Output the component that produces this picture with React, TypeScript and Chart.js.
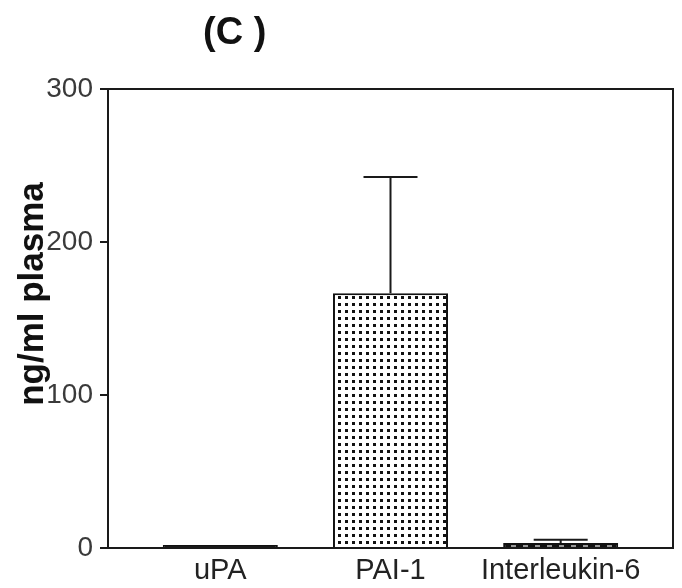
import React, { useEffect, useRef } from "react";
import { Chart, registerables } from "chart.js";

Chart.register(...registerables);

const categories = ["uPA", "PAI-1", "Interleukin-6"];
const means = [2, 166.5, 3.2];
const sdUpper = [0, 76, 2.2];
const yTicks = [0, 100, 200, 300];
const chartTitle = "(C )";
const yTitle = "ng/ml plasma";

function dotPattern(): CanvasPattern | string {
  const c = document.createElement("canvas");
  c.width = 7;
  c.height = 7;
  const g = c.getContext("2d");
  if (!g) return "#ccc";
  g.fillStyle = "#ffffff";
  g.fillRect(0, 0, 7, 7);
  g.fillStyle = "#111111";
  g.fillRect(2, 2, 3, 3);
  const p = g.createPattern(c, "repeat");
  return p || "#ccc";
}

function dashPattern(): CanvasPattern | string {
  const c = document.createElement("canvas");
  c.width = 12;
  c.height = 4;
  const g = c.getContext("2d");
  if (!g) return "#888";
  g.fillStyle = "#999999";
  g.fillRect(0, 0, 12, 4);
  g.fillStyle = "#111111";
  g.fillRect(0, 0, 7, 4);
  const p = g.createPattern(c, "repeat");
  return p || "#888";
}

export default function App() {
  const ref = useRef<HTMLCanvasElement | null>(null);

  useEffect(() => {
    if (!ref.current) return;
    const fills = ["#1a1a1a", dotPattern(), dashPattern()];

    const boxAndErrors = {
      id: "boxAndErrors",
      afterDatasetsDraw(chart: any) {
        const ctx = chart.ctx;
        const area = chart.chartArea;
        const yScale = chart.scales.y;
        const meta = chart.getDatasetMeta(0);
        ctx.save();
        ctx.strokeStyle = "#1a1a1a";
        ctx.lineWidth = 2;
        meta.data.forEach((bar: any, i: number) => {
          if (!sdUpper[i]) return;
          const yTop = yScale.getPixelForValue(means[i] + sdUpper[i]);
          const yBar = yScale.getPixelForValue(means[i]);
          ctx.beginPath();
          ctx.moveTo(bar.x, yBar);
          ctx.lineTo(bar.x, yTop);
          ctx.moveTo(bar.x - 27, yTop);
          ctx.lineTo(bar.x + 27, yTop);
          ctx.stroke();
        });
        ctx.beginPath();
        ctx.moveTo(area.left, area.top);
        ctx.lineTo(area.right, area.top);
        ctx.lineTo(area.right, area.bottom);
        ctx.stroke();
        ctx.restore();
      },
    };

    const chart = new Chart(ref.current, {
      type: "bar",
      data: {
        datasets: [
          {
            data: means.map((v, i) => ({ x: i + 1, y: v })),
            backgroundColor: fills as any,
            borderColor: "#111111",
            borderWidth: 2,
            barPercentage: 0.676,
            categoryPercentage: 1,
          },
        ],
      },
      options: {
        animation: false,
        responsive: false,
        layout: { padding: { left: 0, top: 89, right: 9, bottom: 0 } },
        plugins: {
          legend: { display: false },
          tooltip: { enabled: false },
          title: { display: false },
        },
        scales: {
          x: {
            type: "linear",
            offset: false,
            min: 0.34,
            max: 3.66,
            afterBuildTicks(scale: any) {
              scale.ticks = categories.map((_, i) => ({ value: i + 1 }));
            },
            afterFit(scale: any) {
              scale.height = 40;
            },
            grid: { display: false, drawTicks: false, offset: false },
            border: { display: true, color: "#1a1a1a", width: 2 },
            ticks: {
              autoSkip: false,
              maxRotation: 0,
              padding: 6,
              color: "#222222",
              font: { family: "'Liberation Sans', Arial, sans-serif", size: 29 },
              callback: (v: any) => categories[Math.round(Number(v)) - 1] ?? "",
            },
          },
          y: {
            min: 0,
            max: 300,
            afterBuildTicks(scale: any) {
              scale.ticks = yTicks.map((v) => ({ value: v }));
            },
            afterFit(scale: any) {
              scale.width = 108;
            },
            grid: {
              display: true,
              drawOnChartArea: false,
              drawTicks: true,
              tickLength: 8,
              color: "#1a1a1a",
              lineWidth: 2,
            },
            border: { display: true, color: "#1a1a1a", width: 2 },
            ticks: {
              padding: 7,
              color: "#3a3a3a",
              font: { family: "'Liberation Sans', Arial, sans-serif", size: 28 },
            },
          },
        },
      },
      plugins: [boxAndErrors],
    });
    return () => chart.destroy();
  }, []);

  return (
    <div style={{ position: "fixed", left: 0, top: 0, width: 682, height: 588, background: "#fff" }}>
      <canvas ref={ref} width={682} height={588} style={{ display: "block" }} />
      <div
        style={{
          position: "absolute",
          left: 203,
          top: 8,
          fontFamily: "'Liberation Sans', Arial, sans-serif",
          fontWeight: "bold",
          fontSize: 38,
          lineHeight: "46px",
          color: "#111",
          whiteSpace: "pre",
        }}
      >
        {chartTitle}
      </div>
      <div
        style={{
          position: "absolute",
          left: 31 - 160,
          top: 294 - 22,
          width: 320,
          height: 44,
          lineHeight: "44px",
          textAlign: "center",
          transform: "rotate(-90deg)",
          fontFamily: "'Liberation Sans', Arial, sans-serif",
          fontWeight: "bold",
          fontSize: 35,
          color: "#111",
          whiteSpace: "nowrap",
        }}
      >
        {yTitle}
      </div>
    </div>
  );
}
